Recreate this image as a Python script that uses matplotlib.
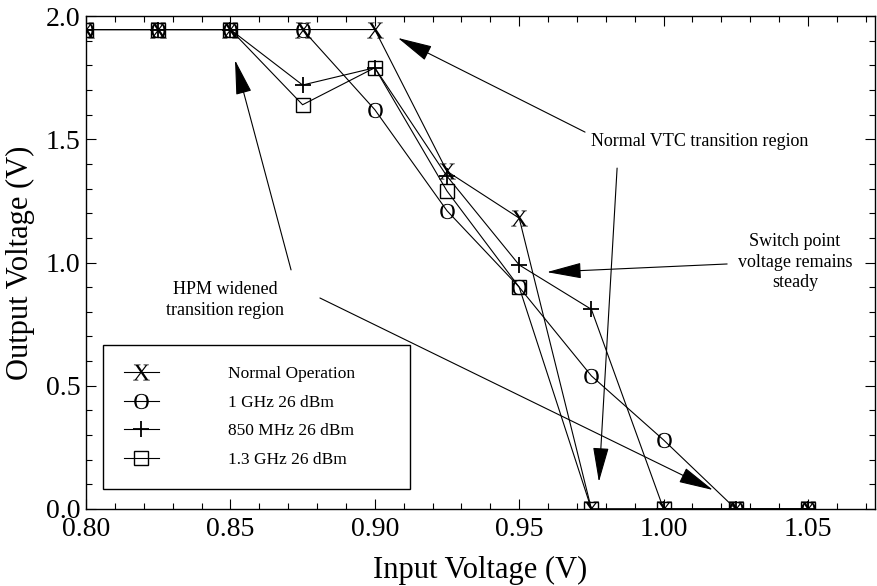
import matplotlib
matplotlib.use("Agg")

import matplotlib.pyplot as plt
from matplotlib.lines import Line2D
from matplotlib.ticker import MultipleLocator, FormatStrFormatter

plt.rcParams["font.family"] = ["Liberation Serif", "DejaVu Serif"]
plt.rcParams["mathtext.fontset"] = "custom"
plt.rcParams["mathtext.rm"] = "Liberation Serif"

# input voltage sweep (V)
vin = [0.800, 0.825, 0.850, 0.875, 0.900, 0.925, 0.950, 0.975, 1.000, 1.025, 1.050]

# output voltage (V)
normal_op = [1.945, 1.945, 1.945, 1.945, 1.945, 1.37, 1.18, 0.0, 0.0, 0.0, 0.0]
ghz1_26 = [1.945, 1.945, 1.945, 1.945, 1.62, 1.21, 0.90, 0.54, 0.28, 0.0, 0.0]
mhz850_26 = [1.945, 1.945, 1.945, 1.72, 1.79, 1.35, 0.99, 0.81, 0.0, 0.0, 0.0]
ghz13_26 = [1.945, 1.945, 1.945, 1.64, 1.79, 1.29, 0.90, 0.0, 0.0, 0.0, 0.0]

# label, values, marker, size, face colour, edge width
series = [
    ("Normal Operation", normal_op, r"$\mathrm{X}$", 12, "k", 0.0),
    ("1 GHz 26 dBm", ghz1_26, r"$\mathrm{O}$", 11, "k", 0.0),
    ("850 MHz 26 dBm", mhz850_26, "+", 12, "k", 1.3),
    ("1.3 GHz 26 dBm", ghz13_26, "s", 9.5, "none", 1.0),
]

fig = plt.figure(figsize=(8.77, 5.86), dpi=100)
ax = fig.add_axes([86 / 877, 1 - 509 / 586, 789 / 877, 493 / 586])

handles = []
for label, vals, mk, ms, mfc, mew in series:
    style = dict(color="k", lw=0.8, marker=mk, markersize=ms,
                 markerfacecolor=mfc, markeredgecolor="k", markeredgewidth=mew)
    ax.plot(vin, vals, **style)
    handles.append(Line2D([], [], label=label, **style))

ax.set_xlim(0.80, 1.0732)
ax.set_ylim(0.0, 2.0)
ax.xaxis.set_major_locator(MultipleLocator(0.05))
ax.xaxis.set_minor_locator(MultipleLocator(0.01))
ax.yaxis.set_major_locator(MultipleLocator(0.5))
ax.yaxis.set_minor_locator(MultipleLocator(0.1))
ax.xaxis.set_major_formatter(FormatStrFormatter("%.2f"))
ax.yaxis.set_major_formatter(FormatStrFormatter("%.1f"))
ax.tick_params(which="both", direction="in", top=True, right=True, width=0.8,
               labelsize=20)
ax.tick_params(axis="x", which="major", length=7, pad=6)
ax.tick_params(axis="y", which="major", length=7, pad=4)
ax.tick_params(which="minor", length=4)
for sp in ax.spines.values():
    sp.set_linewidth(1.0)

ax.set_xlabel("Input Voltage (V)", fontsize=22, labelpad=10)
ax.set_ylabel("Output Voltage (V)", fontsize=22, labelpad=8)

leg = ax.legend(handles=handles, loc="lower left",
                bbox_to_anchor=(0.0215, 0.0406, 0.389, 0.288), mode="expand",
                fontsize=12.5, frameon=True, fancybox=False, edgecolor="k",
                framealpha=1, borderpad=1.2, labelspacing=0.72,
                handlelength=2.0, handletextpad=4.0, borderaxespad=0)
leg.get_frame().set_linewidth(1.0)

arrow_kw = dict(arrowstyle="-|>,head_length=2.2,head_width=0.5",
                mutation_scale=10, color="k", lw=0.8, shrinkA=0, shrinkB=0)

# Normal VTC transition region
ax.text(1.0126, 1.489, "Normal VTC transition region", fontsize=13,
        ha="center", va="center")
ax.annotate("", xy=(0.9080, 1.911), xytext=(0.9728, 1.529), arrowprops=arrow_kw)
ax.annotate("", xy=(0.9776, 0.110), xytext=(0.9839, 1.383), arrowprops=arrow_kw)

# Switch point
ax.text(1.0455, 1.002, "Switch point\nvoltage remains\nsteady", fontsize=13,
        ha="center", va="center", linespacing=1.25)
ax.annotate("", xy=(0.9596, 0.961), xytext=(1.0220, 0.994), arrowprops=arrow_kw)

# HPM widened region
ax.text(0.8481, 0.848, "HPM widened\ntransition region", fontsize=13,
        ha="center", va="center", linespacing=1.3)
ax.annotate("", xy=(0.8516, 1.821), xytext=(0.8710, 0.970), arrowprops=arrow_kw)
ax.annotate("", xy=(1.0171, 0.077), xytext=(0.8810, 0.856), arrowprops=arrow_kw)

fig.savefig("out.png", dpi=100)
plt.close(fig)
